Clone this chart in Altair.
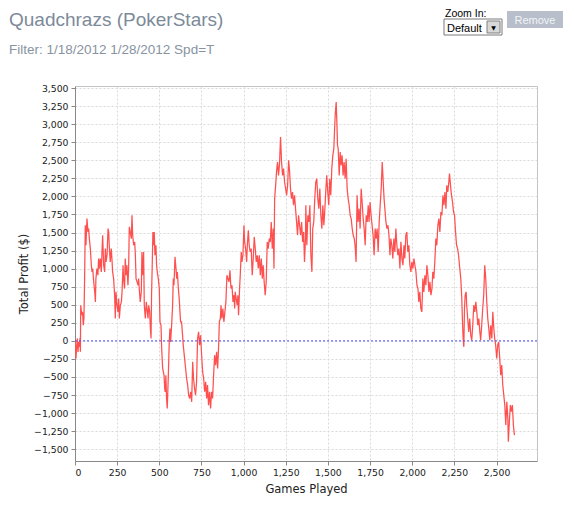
import altair as alt
import pandas as pd

# ---- data (games played vs. cumulative profit) ----
games = [
    0, 6, 10, 14, 18, 22, 26, 30, 32, 34, 38, 42, 45, 49, 53, 57, 61, 65, 71, 77,
    81, 85, 91, 97, 101, 105, 111, 117, 121, 124, 130, 136, 140, 144, 150, 156, 160, 164, 170, 176,
    180, 184, 190, 196, 200, 203, 209, 215, 219, 223, 229, 235, 239, 243, 249, 255, 259, 263, 269, 275,
    279, 285, 288, 294, 298, 304, 308, 314, 318, 322, 328, 334, 338, 342, 348, 354, 358, 362, 368, 374,
    377, 381, 387, 393, 397, 403, 407, 411, 417, 423, 429, 433, 437, 443, 447, 451,
    454, 458, 462, 466, 470, 474, 480, 484, 488, 494, 500, 504, 510, 514, 520, 524, 528, 532, 535, 539,
    543, 547, 553, 559, 563, 567, 573, 579, 583, 587, 593, 599, 603, 607, 613, 618, 626, 632, 638, 642,
    648, 654, 662, 668, 674, 680, 686, 692, 698, 703, 709, 715, 721, 727, 733, 739, 745, 751, 757, 763,
    769, 775, 781, 786, 792, 798, 804, 810, 816, 822, 828, 834, 840, 846, 852, 856, 862, 866, 871, 877,
    883, 889, 895, 901,
    913, 919, 925, 931, 937, 943, 947, 950, 956, 962, 966, 970, 976, 980, 986, 990, 996, 1002, 1006, 1012,
    1018, 1022, 1028, 1033, 1039, 1045, 1051, 1057, 1063, 1069, 1075, 1081, 1087, 1093, 1099, 1105, 1111, 1116, 1122, 1128,
    1134, 1140, 1146, 1152, 1158, 1164, 1170, 1176, 1180, 1184, 1190, 1195, 1201, 1207, 1213, 1219, 1225, 1231, 1237, 1243,
    1249, 1255, 1261, 1267, 1273, 1278, 1284, 1290, 1296, 1302, 1308, 1314, 1320, 1326, 1332, 1338, 1344, 1350, 1356, 1361,
    1367,
    1369, 1375, 1381, 1387, 1393, 1399, 1405, 1410, 1416, 1422, 1428, 1434, 1440, 1446, 1452, 1458, 1464, 1470, 1476, 1482,
    1488, 1493, 1499, 1505, 1511, 1517, 1523, 1529, 1535, 1539, 1543, 1549, 1553, 1557, 1561, 1567, 1573, 1578, 1584, 1590,
    1596, 1602, 1608, 1614, 1620, 1626, 1632, 1638, 1644, 1650, 1656, 1661, 1667, 1673, 1679, 1685, 1691, 1697, 1703, 1709,
    1715, 1721, 1727, 1733, 1739, 1744, 1750, 1756, 1762, 1768, 1774, 1780, 1786, 1792, 1798, 1804, 1810, 1816, 1822, 1827,
    1833,
    1844, 1850, 1856, 1862, 1868, 1873, 1879, 1885, 1891, 1897, 1903, 1909, 1915, 1921, 1927, 1933, 1939, 1945, 1951, 1956,
    1962, 1968, 1974, 1980, 1986, 1992, 1998, 2004, 2010, 2016, 2022, 2028, 2034, 2039, 2045, 2051, 2057, 2063, 2069, 2075,
    2081, 2087, 2093, 2099, 2105, 2111, 2117, 2122, 2128, 2134, 2140, 2146, 2152, 2158, 2164, 2170, 2176, 2182, 2188, 2194,
    2200, 2205, 2211, 2217, 2221, 2227, 2233, 2239, 2245, 2251, 2257, 2263, 2269, 2275,
    2282, 2288, 2294, 2298, 2302, 2306, 2310, 2314, 2320, 2323, 2329, 2335, 2341, 2347, 2353, 2359, 2365, 2371, 2377, 2383,
    2389, 2395, 2401, 2406, 2412, 2418, 2424, 2430, 2436, 2442, 2448, 2454, 2460, 2466, 2472, 2478, 2484, 2489, 2495, 2501,
    2507, 2513, 2519, 2525, 2531, 2537, 2543, 2549, 2555, 2561, 2567, 2570, 2576, 2582, 2588, 2594, 2600, 2606,
]
profit = [
    0, -244, -60, 32, -152, -14, -83, 41, -152, 493, 401, 355, 401, 217, 309, 862, 1600, 1323, 1692, 1507,
    1554, 1415, 1277, 1046, 954, 1000, 816, 678, 539, 862, 1000, 908, 1139, 1000, 1139, 954, 1231, 1461, 1046, 954,
    1277, 1093, 1185, 1554, 1507, 1323, 1093, 1277, 1139, 954, 862, 632, 309, 678, 493, 401, 585, 309, 493, 539,
    678, 1046, 862, 724, 1139, 908, 1046, 770, 1000, 1577, 1507, 1415, 1738, 1461, 1323, 1369, 1185, 862, 816, 770,
    862, 724, 539, 678, 1231, 908, 1231, 493, 309, 539, 401, 309, 493, 401, 171, 32,
    632, 1046, 1507, 1323, 1507, 1185, 1323, 1046, 954, 862, 724, 263, 217, -106, -383, -429, -475, -659, -705, -475,
    -798, -936, -521, -14, 171, -14, 217, 493, 862, 770, 1162, 1000, 862, 954, 724, 585, 263, 263, 78, -60,
    -198, -337, -521, -613, -752, -798, -705, -844, -291, -521, -659, -752, -567, 32, 124, -60, 78, -198, -429, -521,
    -705, -567, -798, -613, -890, -705, -936, -705, -798, -475, -198, -337, -152, -383, -60, 263, 309, 493, 309, 447,
    263, 401, 539, 908,
    816, 978, 724, 770, 540, 632, 447, 678, 586, 494, 632, 355, 724, 908, 1231, 1093, 1185, 1600, 1369, 1277,
    1093, 1323, 1531, 1323, 1231, 1277, 908, 1139, 1439, 1277, 1093, 1185, 1001, 1185, 908, 1139, 862, 1047, 816, 632,
    816, 1369, 1277, 1416, 1369, 1646, 1277, 1554, 1001, 1969, 2153, 2338, 2476, 2291, 2453, 2822, 2476, 2291, 2384, 2199,
    2107, 2015, 2153, 2499, 2338, 2107, 1969, 2061, 1877, 2015, 1830, 1646, 1462, 1738, 1600, 1462, 1646, 1369, 1508, 1093,
    1416,
    1877, 1323, 1738, 1646, 1877, 1185, 955, 1554, 1646, 1969, 2199, 2245, 1969, 1830, 2107, 1738, 1554, 1877, 1600, 1830,
    2107, 2291, 2061, 1877, 2245, 2015, 2384, 2568, 2660, 2891, 3121, 3306, 3029, 2706, 2660, 2291, 2614, 2430, 2568, 2291,
    2476, 2245, 2522, 2107, 1969, 1877, 1738, 1692, 1554, 1462, 1416, 1323, 1093, 2015, 1646, 1830, 1554, 2107, 1923, 1692,
    1554, 1323, 1738, 1646, 1877, 1646, 1923, 1738, 1600, 1462, 1185, 1554, 1416, 1554, 1231, 1646, 1877, 2107, 2476, 2245,
    1969,
    1646, 1554, 1600, 1462, 1185, 1416, 1323, 1139, 1416, 1231, 1554, 1323, 1185, 1277, 1001, 1370, 1139, 1047, 1323, 1139,
    1462, 1508, 1231, 1323, 1047, 955, 1093, 1001, 1139, 1047, 955, 770, 724, 540, 678, 447, 401, 862, 678, 909,
    770, 1047, 909, 678, 816, 632, 724, 955, 862, 1093, 1416, 1323, 1600, 1692, 1508, 1784, 1738, 2015, 1877, 2061,
    1830, 2153, 2061, 2199, 2315, 2153, 2015, 1923, 1784, 1738, 1508, 1323, 1277, 1185,
    1001, 862, 586, 263, 32, -83, 447, 632, 678, 494, 309, 125, 309, 79, 9, 217, 494, 401, 540, 401,
    217, 309, 125, 9, 217, 447, 632, 1047, 862, 540, 309, 171, 9, 217, 32, 401, 171, 32, -60, -244,
    -60, -14, -244, -475, -336, -613, -751, -889, -1166, -843, -1074, -1397, -1120, -889, -981, -889, -1166, -1305,
]
x_ticks = list(range(0, 2501, 250))
y_ticks = list(range(-1500, 3501, 250))
x_domain = [0, 2740]
y_domain = [-1663, 3528]

title_text = ["Quadchrazs (PokerStars)"]
subtitle_text = ["Filter: 1/18/2012 1/28/2012 Spd=T"]

df = pd.DataFrame({"games": games, "profit": profit})

FONT = "DejaVu Sans"
UIFONT = "Liberation Sans"

x_scale = alt.Scale(domain=x_domain, nice=False, zero=False)
y_scale = alt.Scale(domain=y_domain, nice=False, zero=False)
x_axis = alt.Axis(values=x_ticks, format=",d", title="Games Played", titlePadding=6,
                  labelOverlap=False, tickCount=len(x_ticks))
y_axis = alt.Axis(values=y_ticks, format=",d", title="Total Profit ($)", titlePadding=4,
                  labelOverlap=False, tickCount=len(y_ticks))

line = alt.Chart(df).mark_line(color="#ff5050", strokeWidth=1.25, clip=True).encode(
    x=alt.X("games:Q", scale=x_scale, axis=x_axis),
    y=alt.Y("profit:Q", scale=y_scale, axis=y_axis),
    order="games:Q",
)

zero = alt.Chart(pd.DataFrame({"profit": [0]})).mark_rule(
    color="#4d4dff", strokeDash=[2, 2], strokeWidth=1
).encode(y=alt.Y("profit:Q", scale=y_scale, axis=y_axis))

one = pd.DataFrame({"k": [1]})

title = alt.Chart(pd.DataFrame({"t": title_text})).mark_text(
    align="left", baseline="alphabetic", font=UIFONT, fontSize=19, color="#7d8a99"
).encode(x=alt.value(-66), y=alt.value(-60), text="t:N")

subtitle = alt.Chart(pd.DataFrame({"t": subtitle_text})).mark_text(
    align="left", baseline="alphabetic", font=UIFONT, fontSize=13.5, color="#8793a0"
).encode(x=alt.value(-66), y=alt.value(-32), text="t:N")

zoom_label = alt.Chart(pd.DataFrame({"t": ["Zoom In:"]})).mark_text(
    align="left", baseline="alphabetic", font=UIFONT, fontSize=10.5, color="#000000"
).encode(x=alt.value(370), y=alt.value(-69), text="t:N")

select_box = alt.Chart(one).mark_rect(
    fill="#ffffff", stroke="#7a7a7a", strokeWidth=1
).encode(x=alt.value(369), x2=alt.value(427), y=alt.value(-67), y2=alt.value(-51))

select_btn = alt.Chart(one).mark_rect(
    fill="#d8d8d8", stroke="#808080", strokeWidth=1
).encode(x=alt.value(412), x2=alt.value(425), y=alt.value(-65), y2=alt.value(-53))

select_arrow = alt.Chart(pd.DataFrame({"t": ["▼"]})).mark_text(
    align="center", baseline="middle", font=FONT, fontSize=6, color="#000000"
).encode(x=alt.value(418.5), y=alt.value(-58.5), text="t:N")

select_text = alt.Chart(pd.DataFrame({"t": ["Default"]})).mark_text(
    align="left", baseline="alphabetic", font=UIFONT, fontSize=11, color="#000000"
).encode(x=alt.value(372), y=alt.value(-54), text="t:N")

remove_btn = alt.Chart(one).mark_rect(fill="#b8bfcb").encode(
    x=alt.value(432), x2=alt.value(488), y=alt.value(-75), y2=alt.value(-58)
)
remove_text = alt.Chart(pd.DataFrame({"t": ["Remove"]})).mark_text(
    align="center", baseline="alphabetic", font=UIFONT, fontSize=11, color="#f2f4f7"
).encode(x=alt.value(460), y=alt.value(-62), text="t:N")

chart = (
    alt.layer(
        line, zero, title, subtitle, zoom_label, select_box, select_btn, select_arrow,
        select_text, remove_btn, remove_text,
    )
    .properties(
        width=462,
        height=375,
        autosize=alt.AutoSizeParams(type="none"),
        padding={"left": 67, "top": 78, "right": 29, "bottom": 42},
        background="#ffffff",
    )
    .configure_view(stroke="#c4c4c4", strokeWidth=1)
    .configure_axis(
        labelFont=FONT,
        labelFontSize=9.3,
        labelColor="#222222",
        labelPadding=3,
        labelOverlap=False,
        tickSize=4,
        tickColor="#888888",
        domainColor="#888888",
        gridColor="#d9d9d9",
        gridDash=[2, 2],
        gridWidth=1,
        titleFont=FONT,
        titleFontSize=11.5,
        titleFontWeight="normal",
        titleColor="#222222",
    )
)

chart.save("out.html", embed_options={"renderer": "svg", "actions": False})
